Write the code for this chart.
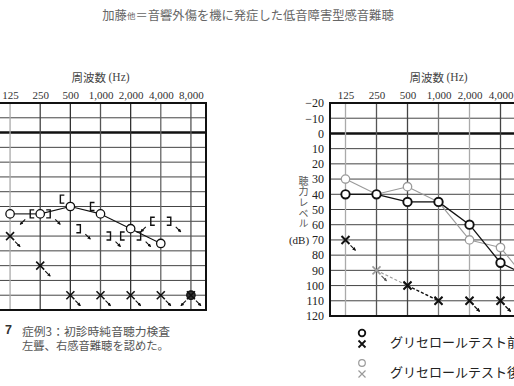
<!DOCTYPE html>
<html>
<head>
<meta charset="utf-8">
<script src="https://cdn.jsdelivr.net/npm/d3@7"></script>
<style>
  body { margin: 0; background: #fff; }
  svg { display: block; }
  .cjk { font-family: "Noto Sans CJK JP", sans-serif; }
  .num { font-family: "Liberation Serif", serif; }
</style>
</head>
<body>
<div class="wrapper"></div>
<script>
// frequency axis
var freqs = [125, 250, 500, 1000, 2000, 4000, 8000];
var freqLabels = ["125", "250", "500", "1,000", "2,000", "4,000", "8,000"];
var dbTicks = [-20, -10, 0, 10, 20, 30, 40, 50, 60, 70, 80, 90, 100, 110, 120];

// case 3 audiogram (left): right ear air ○, left ear air ×, bone [ and ]
var caseRightAir = [55, 55, 50, 55, 65, 75, 110];
var caseRightAirOut = [0, 0, 0, 0, 0, 0, 1];
var caseLeftAir = [70, 90, 110, 110, 110, 110, 110];
var caseLeftAirOut = [1, 1, 1, 1, 1, 1, 1];
var caseRightBone = [null, 55, 45, 50, 70, 60, null];
var caseRightBoneOut = [0, 1, 0, 0, 0, 1, 0];
var caseLeftBone = [null, 55, 65, 70, 70, 60, null];
var caseLeftBoneOut = [0, 1, 1, 1, 1, 1, 0];

// glycerol test audiogram (right): before (black) / after (gray)
var beforeAir = [40, 40, 45, 45, 60, 85, 95];
var afterAir = [30, 40, 35, 45, 70, 75, 100];
var beforeCross = [70, null, 100, 110, 110, 110, null];
var beforeCrossOut = [1, 0, 0, 0, 1, 1, 0];
var afterCross = [null, 90, 100, 110, 110, 110, null];
var afterCrossOut = [0, 1, 0, 0, 1, 1, 0];

var legendLabels = ["グリセロールテスト前", "グリセロールテスト後"];

var W = 514, H = 386;
var black = "#111", gray = "#9a9a9a";

var svg = d3
  .select(".wrapper")
  .append("svg")
  .attr("width", W)
  .attr("height", H);

var defs = svg.append("defs");
[["arrBlack", black], ["arrGray", "#555"]].forEach(function(m) {
  defs
    .append("marker")
    .attr("id", m[0])
    .attr("viewBox", "0 0 6 6")
    .attr("refX", 5)
    .attr("refY", 3)
    .attr("markerWidth", 3.2)
    .attr("markerHeight", 3.2)
    .attr("orient", "auto")
    .append("path")
    .attr("d", "M0,0 L6,3 L0,6 Z")
    .attr("fill", m[1]);
});

// scales
var xL = d3
  .scaleLog()
  .base(2)
  .domain([125 / Math.SQRT2, 8000 * Math.SQRT2])
  .range([-5, 206]);
var yL = d3
  .scaleLinear()
  .domain([-20, 120])
  .range([103, 310]);

var xR = d3
  .scaleLog()
  .base(2)
  .domain([125 / Math.SQRT2, 8000 * Math.SQRT2])
  .range([330, 547]);
var yR = d3
  .scaleLinear()
  .domain([-20, 120])
  .range([103, 316]);

// page title
var title = svg
  .append("text")
  .attr("class", "cjk")
  .attr("x", 248)
  .attr("y", 15)
  .attr("text-anchor", "middle")
  .attr("dominant-baseline", "central")
  .attr("fill", "#666")
  .attr("font-size", 12.3);
title.append("tspan").text("加藤");
title.append("tspan").attr("font-size", 8.5).text("他");
title.append("tspan").text("＝音響外傷を機に発症した低音障害型感音難聴");

drawGrid(svg.append("g"), xL, yL, ["#aaa", "#444", "#333", "#555", "#333", "#666", "#555"]);
drawGrid(svg.append("g"), xR, yR, ["#aaa", "#555", "#444", "#777", "#aaa", "#444", "#555"]);

drawFreqAxis(xL, yL);
drawFreqAxis(xR, yR);

// dB labels of the right chart
var yAxis = svg
  .append("g")
  .attr("class", "num")
  .attr("transform", "translate(" + xR.range()[0] + ",0)")
  .call(
    d3
      .axisLeft(yR)
      .tickValues(dbTicks)
      .tickSize(0)
      .tickPadding(6)
      .tickFormat(function(d) {
        return d < 0 ? "\u2212" + -d : d;
      })
  );
yAxis.select(".domain").remove();
yAxis
  .selectAll("text")
  .attr("font-family", "Liberation Serif, serif")
  .attr("font-size", 12)
  .attr("fill", "#222");

// vertical y title
svg
  .append("text")
  .attr("class", "cjk")
  .attr("x", 303.5)
  .attr("y", 176)
  .attr("writing-mode", "vertical-rl")
  .attr("letter-spacing", 0.6)
  .attr("font-size", 10)
  .attr("fill", "#555")
  .text("聴力レベル");
svg
  .append("text")
  .attr("class", "num")
  .attr("x", 299)
  .attr("y", yR(70))
  .attr("text-anchor", "middle")
  .attr("dominant-baseline", "central")
  .attr("font-size", 11)
  .attr("fill", "#222")
  .text("(dB)");

// case 3 marks
var gL = svg.append("g");
drawSeries(gL, xL, yL, caseRightAir, caseRightAirOut, { sym: "o", color: black, dir: -1, line: true });
drawSeries(gL, xL, yL, caseLeftAir, caseLeftAirOut, { sym: "x", color: black, dir: 1, line: false });
drawSeries(gL, xL, yL, caseRightBone, caseRightBoneOut, { sym: "[", color: black, dir: -1, line: false });
drawSeries(gL, xL, yL, caseLeftBone, caseLeftBoneOut, { sym: "]", color: black, dir: 1, line: false });

// glycerol marks
var gR = svg.append("g");
drawSeries(gR, xR, yR, afterCross, afterCrossOut, { sym: "x", color: gray, dir: 1, line: true, dash: "3,2", arrow: "arrGray", arrowColor: "#555" });
drawSeries(gR, xR, yR, afterAir, null, { sym: "o", color: gray, dir: -1, line: true });
drawSeries(gR, xR, yR, beforeAir, null, { sym: "o", color: black, dir: -1, line: true, bold: true });
drawSeries(gR, xR, yR, beforeCross, beforeCrossOut, { sym: "x", color: black, dir: 1, line: true, dash: "3,2", bold: true });

// legend
var legend = svg
  .selectAll(".legend")
  .data(legendLabels)
  .enter()
  .append("g")
  .attr("class", "legend")
  .attr("transform", function(d, i) {
    return "translate(0," + i * 30 + ")";
  });
legend
  .append("circle")
  .attr("cx", 362)
  .attr("cy", 333)
  .attr("r", 3.3)
  .attr("fill", "none")
  .attr("stroke", function(d, i) {
    return i ? gray : black;
  })
  .attr("stroke-width", function(d, i) {
    return i ? 1.2 : 1.8;
  });
legend
  .append("path")
  .attr("d", "M358.5,340.5 L365.5,347.5 M358.5,347.5 L365.5,340.5")
  .attr("stroke", function(d, i) {
    return i ? gray : black;
  })
  .attr("stroke-width", function(d, i) {
    return i ? 1.2 : 1.8;
  });
legend
  .append("text")
  .attr("class", "cjk")
  .attr("x", 390)
  .attr("y", 341)
  .attr("dominant-baseline", "central")
  .attr("font-size", 13)
  .attr("fill", "#222")
  .text(function(d) {
    return d;
  });

// caption
svg
  .append("text")
  .attr("x", 5)
  .attr("y", 330)
  .attr("dominant-baseline", "central")
  .attr("font-family", "Liberation Sans, sans-serif")
  .attr("font-weight", "bold")
  .attr("font-size", 12.5)
  .attr("fill", "#333")
  .text("7");
svg
  .append("text")
  .attr("class", "cjk")
  .attr("x", 22)
  .attr("y", 330)
  .attr("dominant-baseline", "central")
  .attr("font-size", 11.8)
  .attr("fill", "#555")
  .text("症例3：初診時純音聴力検査");
svg
  .append("text")
  .attr("class", "cjk")
  .attr("x", 22)
  .attr("y", 345)
  .attr("dominant-baseline", "central")
  .attr("font-size", 11.3)
  .attr("fill", "#555")
  .text("左聾、右感音難聴を認めた。");

//------------------------------------------------------------------
//----------------------------functions-----------------------------
//------------------------------------------------------------------

function drawGrid(g, x, y, vColors) {
  var x0 = x.range()[0],
    x1 = x.range()[1];
  var y0 = y.range()[0],
    y1 = y.range()[1];

  g.selectAll(".hline")
    .data(dbTicks)
    .enter()
    .append("line")
    .attr("x1", x0)
    .attr("x2", x1)
    .attr("y1", function(d) {
      return y(d);
    })
    .attr("y2", function(d) {
      return y(d);
    })
    .attr("stroke", function(d) {
      return d === 0 ? "#111" : "#444";
    })
    .attr("stroke-width", function(d) {
      return d === 0 ? 2.4 : 1;
    });

  g.selectAll(".vline")
    .data(freqs)
    .enter()
    .append("line")
    .attr("x1", function(d) {
      return x(d);
    })
    .attr("x2", function(d) {
      return x(d);
    })
    .attr("y1", y0)
    .attr("y2", y1)
    .attr("stroke", function(d, i) {
      return vColors[i];
    })
    .attr("stroke-width", 1.3);

  g.append("rect")
    .attr("x", x0)
    .attr("y", y0)
    .attr("width", x1 - x0)
    .attr("height", y1 - y0)
    .attr("fill", "none")
    .attr("stroke", "#111")
    .attr("stroke-width", 2);
}

function drawFreqAxis(x, y) {
  var ax = svg
    .append("g")
    .attr("transform", "translate(0," + y.range()[0] + ")")
    .call(
      d3
        .axisTop(x)
        .tickValues(freqs)
        .tickSize(0)
        .tickPadding(4)
        .tickFormat(function(d, i) {
          return freqLabels[i];
        })
    );
  ax.select(".domain").remove();
  ax.selectAll("text")
    .attr("font-family", "Liberation Serif, serif")
    .attr("font-size", 11)
    .attr("fill", "#333");

  var cx = (x(125) + x(8000)) / 2;
  var t = svg
    .append("text")
    .attr("x", cx)
    .attr("y", 77)
    .attr("text-anchor", "middle")
    .attr("dominant-baseline", "central")
    .attr("fill", "#444")
    .attr("font-size", 11.5);
  t.append("tspan")
    .attr("font-family", "Noto Sans CJK JP, sans-serif")
    .text("周波数 ");
  t.append("tspan")
    .attr("font-family", "Liberation Serif, serif")
    .text("(Hz)");
}

function drawSeries(g, x, y, vals, outs, o) {
  var pts = [];
  vals.forEach(function(v, i) {
    if (v !== null) pts.push({ f: freqs[i], v: v, i: i, out: outs ? outs[i] : 0 });
  });
  var sw = o.bold ? 1.9 : 1.3;

  // connecting lines
  if (o.line) {
    var segs = [];
    for (var k = 0; k < pts.length - 1; k++) {
      if (pts[k + 1].i === pts[k].i + 1 && !pts[k + 1].out) segs.push([pts[k], pts[k + 1]]);
    }
    g.selectAll(null)
      .data(segs)
      .enter()
      .append("line")
      .attr("x1", function(d) {
        return x(d[0].f);
      })
      .attr("y1", function(d) {
        return y(d[0].v);
      })
      .attr("x2", function(d) {
        return x(d[1].f);
      })
      .attr("y2", function(d) {
        return y(d[1].v);
      })
      .attr("stroke", o.color)
      .attr("stroke-width", o.bold ? 1.3 : 1.1)
      .attr("stroke-dasharray", o.dash || null);
  }

  var sym = g
    .selectAll(null)
    .data(pts)
    .enter()
    .append("g")
    .attr("transform", function(d) {
      return "translate(" + x(d.f) + "," + y(d.v) + ")";
    });

  if (o.sym === "o") {
    sym.append("circle")
      .attr("r", 4.2)
      .attr("fill", function(d) {
        return d.out ? "#333" : "#fff";
      })
      .attr("stroke", o.color)
      .attr("stroke-width", sw);
  } else if (o.sym === "x") {
    sym.append("path")
      .attr("d", "M-4,-4 L4,4 M-4,4 L4,-4")
      .attr("stroke", o.color)
      .attr("stroke-width", o.bold ? 2 : 1.6);
  } else {
    var s = o.sym === "[" ? -1 : 1;
    sym.append("path")
      .attr("d", "M" + (s * 6) + ",-4 H" + (s * 10) + " V4 H" + (s * 6))
      .attr("fill", "none")
      .attr("stroke", o.color)
      .attr("stroke-width", 1.4);
  }

  // scale-out arrows
  var bx = o.sym === "[" ? -10 : o.sym === "]" ? 10 : 0;
  sym.filter(function(d) {
      return d.out;
    })
    .append("line")
    .attr("x1", bx + o.dir * 5)
    .attr("y1", 5.5)
    .attr("x2", bx + o.dir * 10)
    .attr("y2", 10.5)
    .attr("stroke", o.arrowColor || black)
    .attr("stroke-width", 1.1)
    .attr("marker-end", "url(#" + (o.arrow || "arrBlack") + ")");
}
</script>
</body>
</html>
